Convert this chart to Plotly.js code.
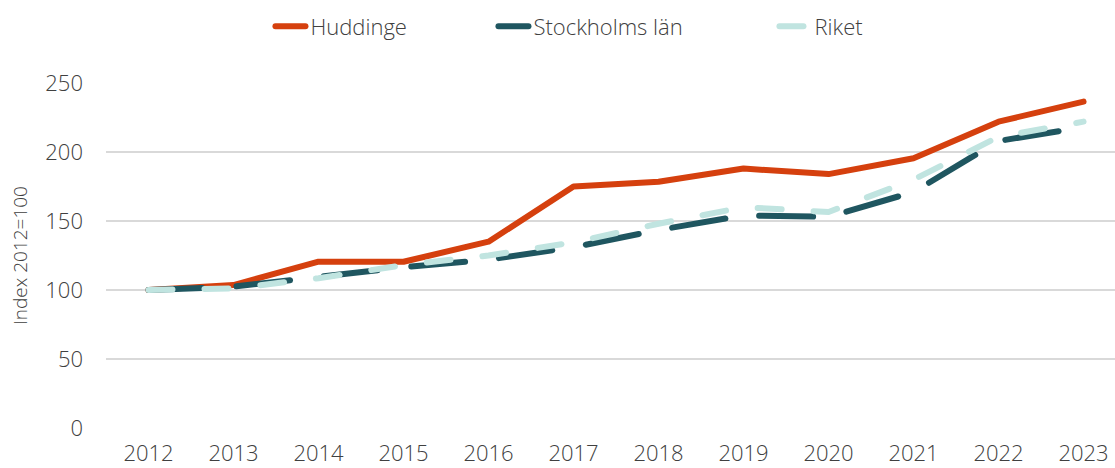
<!DOCTYPE html>
<html>
<head>
<meta charset="utf-8">
<script src="https://cdn.plot.ly/plotly-3.0.1.min.js"></script>
<style>
html,body{margin:0;padding:0;background:#fff;}
#chart{width:1115px;height:468px;}
.js-line{stroke-linecap:round;stroke-linejoin:round;}
</style>
</head>
<body>
<div id="chart"></div>
<script>
const years = ["2012","2013","2014","2015","2016","2017","2018","2019","2020","2021","2022","2023"];
const huddinge = [100, 103.6, 120.5, 120.5, 135, 175, 178.5, 188, 184, 195.5, 222, 236.5];
const stockholmsLan = [100, 102.4, 109.5, 116.5, 122, 131, 143.5, 154, 153, 171, 208, 218];
const riket = [100, 101.2, 108.5, 118, 125, 134.5, 148, 160, 156.5, 180, 211, 222];
const yTicks = [0, 50, 100, 150, 200, 250];

const fam = "Open Sans, Lato, sans-serif";
const txt = "#404040";

const traces = [
  {x: years, y: huddinge, name: "Huddinge", type: "scatter", mode: "lines",
   legendwidth: 178, line: {color: "#D5400E", width: 6}},
  {x: years, y: stockholmsLan, name: "Stockholms län", type: "scatter", mode: "lines",
   legendwidth: 236, line: {color: "#1F5660", width: 6, dash: "54px,34px"}},
  {x: years, y: riket, name: "Riket", type: "scatter", mode: "lines",
   legendwidth: 80, line: {color: "#C0E4E0", width: 6, dash: "24px,32px"}}
];

const layout = {
  width: 1115, height: 468,
  margin: {l: 106, r: 0, t: 83, b: 40},
  paper_bgcolor: "#fff", plot_bgcolor: "#fff",
  font: {family: fam, color: txt, size: 21, weight: 300},
  showlegend: true,
  legend: {orientation: "h", x: 0.163, xanchor: "left", y: 1.225, yanchor: "top",
           font: {family: fam, size: 22, color: txt, weight: 300},
           traceorder: "normal"},
  xaxis: {type: "category", range: [-0.5, 11.37], showgrid: false, zeroline: false,
          showline: false, ticks: "", tickfont: {family: fam, size: 22, color: txt, weight: 300},
          ticklabelstandoff: 10},
  yaxis: {range: [0, 250], tickvals: yTicks, ticktext: yTicks.map(String),
          showgrid: true, gridcolor: "#D9D9D9", gridwidth: 1.5, zeroline: false, showline: false,
          ticks: "", tickfont: {family: fam, size: 22, color: txt, weight: 300},
          ticklabelstandoff: 22,
          title: {text: "Index 2012=100", font: {family: fam, size: 19, color: txt, weight: 300}, standoff: 12}}
};

Plotly.newPlot("chart", traces, layout, {displayModeBar: false, staticPlot: true});
</script>
</body>
</html>
